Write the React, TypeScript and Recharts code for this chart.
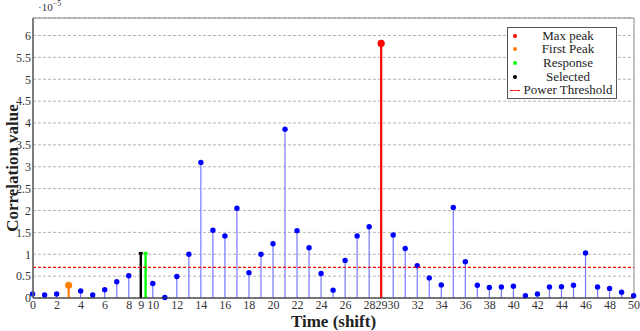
import React from 'react';
import {
  ComposedChart,
  Bar,
  XAxis,
  YAxis,
  CartesianGrid,
  ReferenceLine,
  ReferenceArea,
} from 'recharts';

// correlation per shift, in units of 1e-5
const shifts = [
  0, 1, 2, 3, 4, 5, 6, 7, 8, 9, 10, 11, 12, 13, 14, 15, 16, 17, 18, 19, 20, 21, 22, 23, 24, 25,
  26, 27, 28, 29, 30, 31, 32, 33, 34, 35, 36, 37, 38, 39, 40, 41, 42, 43, 44, 45, 46, 47, 48, 49, 50,
];
const correlation = [
  0.09, 0.07, 0.09, 0.29, 0.16, 0.07, 0.19, 0.37, 0.51, 1.03, 0.33, 0.01, 0.49, 1.0, 3.1, 1.55,
  1.42, 2.05, 0.58, 1.0, 1.24, 3.86, 1.54, 1.15, 0.56, 0.18, 0.86, 1.42, 1.63, 5.82, 1.44, 1.13,
  0.74, 0.46, 0.3, 2.07, 0.83, 0.29, 0.24, 0.25, 0.27, 0.05, 0.09, 0.25, 0.26, 0.29, 1.03, 0.25,
  0.22, 0.13, 0.05,
];

const maxPeakShift = 29;
const firstPeakShift = 3;
const selectedShift = 9;
const responseShift = 9.4;
const responseValue = 1.03;
const powerThreshold = 0.7;

const xTicks = [
  0, 2, 4, 6, 8, 9, 10, 12, 14, 16, 18, 20, 22, 24, 26, 28, 29, 30, 32, 34, 36, 38, 40, 42, 44, 46,
  48, 50,
];
const yTicks = [0, 0.5, 1, 1.5, 2, 2.5, 3, 3.5, 4, 4.5, 5, 5.5, 6];

const legendItems = [
  { name: 'Max peak', color: '#ff0000', type: 'dot' },
  { name: 'First Peak', color: '#ff8000', type: 'dot' },
  { name: 'Response', color: '#00ff00', type: 'dot' },
  { name: 'Selected', color: '#000000', type: 'dot' },
  { name: 'Power Threshold', color: '#ff0000', type: 'dash' },
];

const FONT = "'Liberation Serif', 'Times New Roman', serif";

const kindOf = (s: number) => {
  if (s === maxPeakShift) return 'max';
  if (s === firstPeakShift) return 'first';
  if (s === selectedShift) return 'selected';
  return 'normal';
};

const data = [
  ...shifts.map((s, i) => ({ shift: s, value: correlation[i], kind: kindOf(s) })),
  { shift: responseShift, value: responseValue, kind: 'response' },
].sort((a, b) => a.shift - b.shift);

function Stem(props: any) {
  const { x, y, width, height, payload } = props;
  const cx = x + width / 2;
  const base = y + height;
  const kind = payload.kind;
  if (kind === 'max' || kind === 'first') {
    const c = kind === 'max' ? '#ff0000' : '#ff8000';
    return (
      <g>
        <line x1={cx} x2={cx} y1={base} y2={y} stroke={c} strokeWidth={2.2} />
        <circle cx={cx} cy={y} r={3.6} fill={c} />
      </g>
    );
  }
  if (kind === 'selected' || kind === 'response') {
    const c = kind === 'selected' ? '#000000' : '#00ff00';
    return (
      <g>
        <line x1={cx} x2={cx} y1={base} y2={y} stroke={c} strokeWidth={2.4} />
        <rect x={cx - 2} y={y - 1} width={4} height={2.5} fill={c} />
      </g>
    );
  }
  return (
    <g>
      <line x1={cx} x2={cx} y1={base} y2={y} stroke="#7878ff" strokeWidth={1.2} />
      <circle cx={cx} cy={y} r={2.7} fill="#0000ff" />
    </g>
  );
}

function LegendBox() {
  return (
    <div
      style={{
        position: 'absolute',
        left: 507,
        top: 27,
        border: '1px solid #555',
        background: '#fff',
        width: 108,
        padding: '1px 0',
        fontFamily: FONT,
        fontSize: 13,
        color: '#222',
      }}
    >
      {legendItems.map((item) => (
        <div key={item.name} style={{ display: 'flex', alignItems: 'center', height: 13.6 }}>
          <span style={{ width: 14, display: 'flex', justifyContent: 'center' }}>
            {item.type === 'dot' ? (
              <span
                style={{ width: 4, height: 4, borderRadius: 2, background: item.color, display: 'block' }}
              />
            ) : (
              <span style={{ width: 10, borderTop: `1.5px dashed ${item.color}`, display: 'block' }} />
            )}
          </span>
          <span style={{ flex: 1, textAlign: 'center', whiteSpace: 'nowrap', paddingRight: 2 }}>
            {item.name}
          </span>
        </div>
      ))}
    </div>
  );
}

export default function App() {
  return (
    <div
      style={{
        position: 'absolute',
        left: 0,
        top: 0,
        width: 640,
        height: 331,
        background: '#fff',
        fontFamily: FONT,
      }}
    >
      <div style={{ position: 'absolute', left: 38, top: -1, fontSize: 11, color: '#333' }}>
        ·10<sup style={{ fontSize: 8 }}>−5</sup>
      </div>
      <ComposedChart
        width={640}
        height={331}
        data={data}
        margin={{ top: 18, right: 6, bottom: 0, left: 0 }}
        style={{ fontFamily: FONT }}
      >
        <CartesianGrid vertical={false} stroke="#b4b4b4" strokeDasharray="3 2" />
        <XAxis
          type="number"
          dataKey="shift"
          domain={[0, 50]}
          ticks={xTicks}
          interval={0}
          height={33}
          tickLine={false}
          tickSize={0}
          tickMargin={2}
          axisLine={{ stroke: '#333' }}
          tick={{ fontSize: 12, fill: '#333', style: { fontFamily: FONT } }}
          label={{
            value: 'Time (shift)',
            position: 'insideBottom',
            offset: 4,
            style: { fontFamily: FONT, fontSize: 17, fontWeight: 'bold', fill: '#222' },
          }}
        />
        <YAxis
          type="number"
          domain={[0, 6.4]}
          ticks={yTicks}
          interval={0}
          width={33}
          tickLine={false}
          tickSize={0}
          tickMargin={2}
          axisLine={{ stroke: '#666', strokeWidth: 1.5 }}
          tick={{ fontSize: 12, fill: '#333', style: { fontFamily: FONT } }}
          label={(p: any) => {
            const vb = p.viewBox;
            const cy = vb.y + vb.height / 2 + 10;
            return (
              <text
                x={12}
                y={cy}
                transform={`rotate(-90, 12, ${cy})`}
                textAnchor="middle"
                dominantBaseline="central"
                style={{ fontFamily: FONT, fontSize: 17, fontWeight: 'bold', fill: '#222' }}
              >
                Correlation value
              </text>
            );
          }}
        />
        <ReferenceArea x1={0} x2={50} y1={0} y2={6.4} fill="none" stroke="#888" strokeWidth={1} />
        <ReferenceLine
          y={powerThreshold}
          stroke="#ff0000"
          strokeDasharray="3 2"
          strokeWidth={1.2}
        />
        <Bar dataKey="value" barSize={4} shape={<Stem />} isAnimationActive={false} />
      </ComposedChart>
      <LegendBox />
    </div>
  );
}
